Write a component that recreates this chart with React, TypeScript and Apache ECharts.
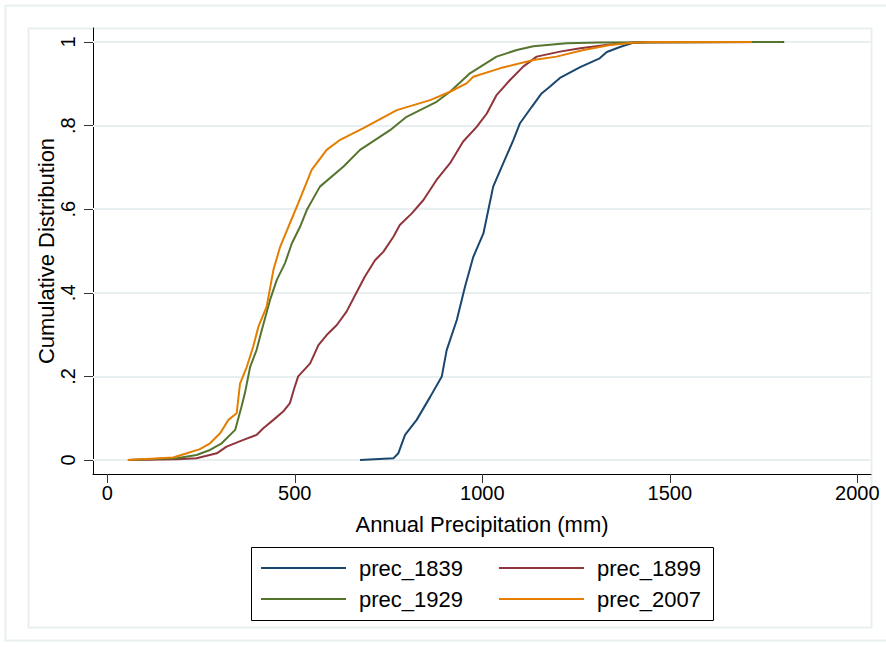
import React, { useEffect, useRef } from "react";
import * as echarts from "echarts";

const seriesNames = ["prec_1839", "prec_1899", "prec_1929", "prec_2007"];
const seriesColors = ["#1a476f", "#90353b", "#55752f", "#e37e00"];

const prec1839: number[][] = [
  [674, 0], [763, 0.004], [776, 0.016], [794, 0.06], [825, 0.096], [861, 0.151],
  [892, 0.2], [905, 0.263], [932, 0.335], [954, 0.415], [976, 0.486], [1003, 0.542],
  [1016, 0.598], [1029, 0.654], [1056, 0.71], [1083, 0.766], [1100, 0.805],
  [1132, 0.845], [1158, 0.877], [1180, 0.893], [1207, 0.914], [1261, 0.94],
  [1313, 0.961], [1332, 0.976], [1367, 0.988], [1402, 0.998], [1447, 1],
];

const prec1899: number[][] = [
  [55, 0], [185, 0.002], [238, 0.004], [292, 0.016], [318, 0.032], [363, 0.048],
  [398, 0.06], [416, 0.076], [443, 0.096], [469, 0.116], [487, 0.136], [498, 0.17],
  [509, 0.2], [541, 0.231], [563, 0.275], [585, 0.299], [612, 0.323], [638, 0.355],
  [667, 0.405], [687, 0.439], [714, 0.478], [736, 0.498], [763, 0.534], [780, 0.562],
  [812, 0.59], [843, 0.622], [878, 0.67], [914, 0.71], [949, 0.762], [985, 0.797],
  [1012, 0.829], [1038, 0.873], [1074, 0.909], [1109, 0.941], [1145, 0.965],
  [1207, 0.977], [1261, 0.985], [1341, 0.994], [1402, 0.999], [1805, 1],
];

const prec1929: number[][] = [
  [55, 0], [185, 0.004], [238, 0.012], [274, 0.024], [305, 0.04], [341, 0.072],
  [358, 0.128], [367, 0.16], [381, 0.223], [398, 0.263], [412, 0.311], [434, 0.383],
  [452, 0.431], [474, 0.471], [492, 0.518], [514, 0.558], [533, 0.6], [567, 0.654],
  [630, 0.702], [674, 0.742], [754, 0.789], [798, 0.821], [878, 0.857], [914, 0.881],
  [967, 0.925], [1038, 0.965], [1092, 0.981], [1136, 0.99], [1225, 0.997],
  [1313, 0.999], [1802, 1],
];

const prec2007: number[][] = [
  [55, 0], [176, 0.006], [212, 0.016], [247, 0.026], [274, 0.04], [301, 0.064],
  [323, 0.096], [345, 0.112], [354, 0.183], [372, 0.223], [389, 0.271], [403, 0.319],
  [425, 0.367], [443, 0.455], [461, 0.51], [483, 0.558], [509, 0.614], [545, 0.694],
  [585, 0.742], [621, 0.766], [683, 0.794], [772, 0.837], [861, 0.861], [914, 0.881],
  [958, 0.901], [976, 0.917], [1047, 0.937], [1136, 0.957], [1198, 0.965],
  [1270, 0.981], [1341, 0.993], [1402, 0.998], [1447, 1], [1719, 1],
];

const seriesData = [prec1839, prec1899, prec1929, prec2007];

const xTicks = [0, 500, 1000, 1500, 2000];
const yTicks = [0, 0.2, 0.4, 0.6, 0.8, 1];
const yTickLabels = ["0", ".2", ".4", ".6", ".8", "1"];

const FONT = "'Liberation Sans', Arial, Helvetica, sans-serif";
const FRAME = "#e8eff1";

export default function App() {
  const ref = useRef<HTMLDivElement>(null);

  useEffect(() => {
    if (!ref.current) return;
    const chart = echarts.init(ref.current, undefined, { renderer: "svg" });

    const lineSeries = seriesNames.map((name, i) => ({
      name,
      type: "line",
      data: seriesData[i],
      showSymbol: false,
      symbol: "none",
      z: 3 + i,
      lineStyle: { color: seriesColors[i], width: 2 },
      itemStyle: { color: seriesColors[i] },
      emphasis: { disabled: true },
    }));

    const legendCommon = {
      left: 260,
      orient: "horizontal",
      padding: 0,
      itemWidth: 85,
      itemHeight: 22,
      itemGap: 35,
      selectedMode: false,
      itemStyle: { opacity: 0, borderWidth: 0 },
      lineStyle: { width: 2 },
      textStyle: { fontSize: 22, color: "#000", fontFamily: FONT, padding: [0, 0, 0, 8] },
    };

    chart.setOption({
      animation: false,
      backgroundColor: "#ffffff",
      textStyle: { fontFamily: FONT },
      grid: { left: 93, right: 15, top: 28, bottom: 173, containLabel: false },
      graphic: [
        {
          type: "rect",
          shape: { x: 5.5, y: 5.5, width: 890, height: 635 },
          style: { fill: "none", stroke: FRAME, lineWidth: 2 },
          silent: true,
          z: -10,
        },
        {
          type: "rect",
          shape: { x: 28.5, y: 28.5, width: 843, height: 599 },
          style: { fill: "none", stroke: FRAME, lineWidth: 2 },
          silent: true,
          z: -10,
        },
        {
          type: "rect",
          shape: { x: 251.5, y: 547.5, width: 462, height: 73 },
          style: { fill: "#fff", stroke: "#000", lineWidth: 1 },
          silent: true,
          z: -5,
        },
      ],
      legend: [
        { ...legendCommon, top: 557, data: [seriesNames[0], seriesNames[1]] },
        { ...legendCommon, top: 588, data: [seriesNames[2], seriesNames[3]] },
      ],
      xAxis: {
        type: "value",
        min: -38.1,
        max: 2036.5,
        name: "Annual Precipitation (mm)",
        nameLocation: "middle",
        nameGap: 39,
        nameMoveOverlap: false,
        nameTextStyle: { fontSize: 22, color: "#000", fontFamily: FONT },
        axisLine: { show: true, onZero: false, lineStyle: { color: "#000", width: 1 } },
        axisTick: { show: true, length: 9, customValues: xTicks, lineStyle: { color: "#333", width: 1 } },
        axisLabel: {
          customValues: xTicks,
          fontSize: 20,
          color: "#000",
          margin: 9,
          fontFamily: FONT,
          formatter: (v: number) => String(Math.round(v)),
        },
        splitLine: { show: false },
      },
      yAxis: {
        type: "value",
        min: -0.0335,
        max: 1.0335,
        name: "Cumulative Distribution",
        nameLocation: "middle",
        nameGap: 36,
        nameRotate: 90,
        nameMoveOverlap: false,
        nameTextStyle: { fontSize: 22, color: "#000", fontFamily: FONT },
        axisLine: { show: true, onZero: false, lineStyle: { color: "#000", width: 1 } },
        axisTick: { show: true, length: 9, customValues: yTicks, lineStyle: { color: "#333", width: 1 } },
        axisLabel: {
          customValues: yTicks,
          rotate: 90,
          fontSize: 20,
          color: "#000",
          margin: 15,
          fontFamily: FONT,
          formatter: (v: number) => {
            const i = yTicks.findIndex((t) => Math.abs(t - v) < 1e-6);
            return i >= 0 ? yTickLabels[i] : "";
          },
        },
        splitLine: { show: false },
      },
      series: [
        {
          name: "grid",
          type: "line",
          data: [[-1000, -10]],
          showSymbol: false,
          symbol: "none",
          lineStyle: { width: 0 },
          z: 1,
          silent: true,
          markLine: {
            z: 1,
            silent: true,
            symbol: "none",
            label: { show: false },
            lineStyle: { color: FRAME, width: 2, type: "solid" },
            data: yTicks.map((v) => ({ yAxis: v })),
          },
        },
        ...lineSeries,
      ],
    });

    return () => chart.dispose();
  }, []);

  return (
    <div
      ref={ref}
      style={{ position: "absolute", left: 0, top: 0, width: 886, height: 647 }}
    />
  );
}
